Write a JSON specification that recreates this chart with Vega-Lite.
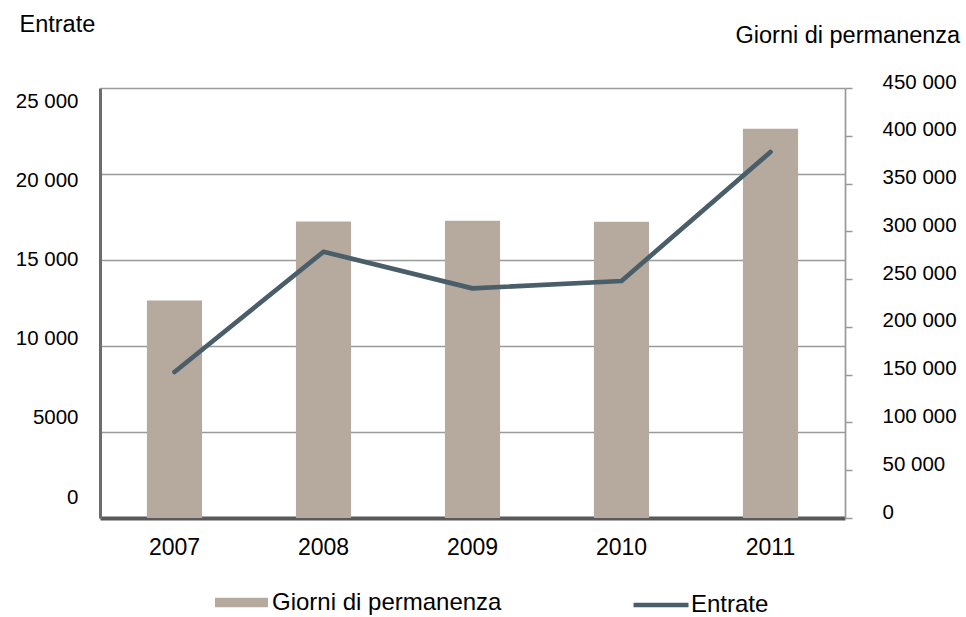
{
  "$schema": "https://vega.github.io/schema/vega-lite/v6.json",
  "width": 745,
  "height": 430,
  "autosize": {"type": "none"},
  "padding": {"left": 100, "top": 88, "right": 121, "bottom": 99},
  "background": "white",
  "config": {
    "font": "Liberation Sans",
    "view": {"stroke": null},
    "axis": {"labelColor": "#000000", "titleColor": "#000000", "titleFontWeight": "normal"},
    "legend": {"labelColor": "#000000"}
  },
  "data": {
    "values": [
      {"anno": "2007", "giorni": 227500, "entrate": 8490},
      {"anno": "2008", "giorni": 310400, "entrate": 15480},
      {"anno": "2009", "giorni": 311100, "entrate": 13350},
      {"anno": "2010", "giorni": 310100, "entrate": 13780},
      {"anno": "2011", "giorni": 407300, "entrate": 21280}
    ]
  },
  "encoding": {
    "x": {
      "field": "anno",
      "type": "nominal",
      "scale": {"paddingInner": 0, "paddingOuter": 0},
      "axis": {
        "title": null,
        "labelAngle": 0,
        "labelFontSize": 23,
        "labelPadding": 18,
        "labelBaseline": "top",
        "ticks": false,
        "tickSize": 0,
        "domainColor": "#595959",
        "domainWidth": 4,
        "grid": false
      }
    }
  },
  "layer": [
    {
      "mark": {"type": "bar", "width": {"band": 0.37}, "fill": "#b6aa9f"},
      "encoding": {
        "y": {
          "field": "giorni",
          "type": "quantitative",
          "scale": {"domain": [0, 450000], "nice": false},
          "axis": {
            "orient": "right",
            "values": [0, 50000, 100000, 150000, 200000, 250000, 300000, 350000, 400000, 450000],
            "labelExpr": "datum.value >= 10000 ? replace(format(datum.value, ','), ',', ' ') : format(datum.value, 'd')",
            "labelFontSize": 20.5,
            "labelAlign": "left",
            "labelBaseline": "middle",
            "labelPadding": 30,
            "labelOffset": -6,
            "tickSize": 7,
            "tickColor": "#999999",
            "tickWidth": 1.5,
            "domainColor": "#999999",
            "domainWidth": 1.7,
            "grid": false,
            "title": "Giorni di permanenza",
            "titleFontSize": 23.5,
            "titleAngle": 0,
            "titleAlign": "left",
            "titleBaseline": "alphabetic",
            "titleX": -110,
            "titleY": -46
          }
        },
        "fill": {
          "datum": "Giorni di permanenza",
          "scale": {"range": ["#b6aa9f"]},
          "legend": {
            "title": null,
            "orient": "none",
            "legendX": 115,
            "legendY": 488,
            "symbolType": "M-1,-0.18H1V0.18H-1Z",
            "symbolSize": 2809,
            "symbolStrokeWidth": 0,
            "symbolOpacity": 1,
            "labelFontSize": 24,
            "labelOffset": 4,
            "labelLimit": 500,
            "labelBaseline": "middle"
          }
        }
      }
    },
    {
      "mark": {"type": "line", "stroke": "#4a5e69", "strokeWidth": 4.7, "strokeCap": "round", "strokeJoin": "round"},
      "encoding": {
        "y": {
          "field": "entrate",
          "type": "quantitative",
          "scale": {"domain": [0, 25000], "nice": false},
          "axis": {
            "orient": "left",
            "values": [0, 5000, 10000, 15000, 20000, 25000],
            "labelExpr": "datum.value >= 10000 ? replace(format(datum.value, ','), ',', ' ') : format(datum.value, 'd')",
            "labelFontSize": 20.5,
            "labelAlign": "right",
            "labelBaseline": "middle",
            "labelPadding": 22,
            "labelOffset": {"expr": "-21 + datum.value / 5000 * 6.8"},
            "ticks": false,
            "tickSize": 0,
            "domainColor": "#6d6d6d",
            "domainWidth": 3,
            "grid": true,
            "gridColor": "#9a9a9a",
            "gridWidth": 1.7,
            "title": "Entrate",
            "titleFontSize": 23.5,
            "titleAngle": 0,
            "titleAlign": "left",
            "titleBaseline": "alphabetic",
            "titleX": -81,
            "titleY": -57
          }
        },
        "stroke": {
          "datum": "Entrate",
          "scale": {"range": ["#4a5e69"]},
          "legend": {
            "title": null,
            "orient": "none",
            "legendX": 531,
            "legendY": 487,
            "symbolType": "stroke",
            "symbolSize": 3025,
            "symbolStrokeWidth": 4.7,
            "labelFontSize": 24,
            "labelOffset": 0,
            "labelLimit": 300,
            "labelBaseline": "middle"
          }
        }
      }
    }
  ],
  "resolve": {"scale": {"y": "independent"}}
}
